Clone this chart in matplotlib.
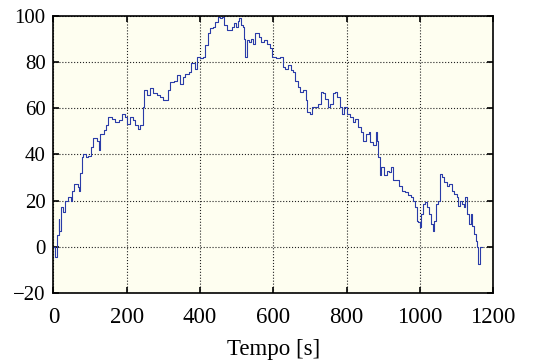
import numpy as np
import matplotlib
matplotlib.use('Agg')
import matplotlib.pyplot as plt

# sampled signal (time in s, value)
tempo = [0, 5, 11, 14, 16, 21, 27, 32, 41, 47, 50, 55, 66, 70, 73, 77, 82, 89, 95,
         102, 109, 118, 125, 127, 137, 144, 150, 159, 168, 178, 187, 196, 200, 209,
         217, 223, 232, 237, 244, 248, 255, 264, 273, 282, 291, 299, 308, 312, 319,
         328, 337, 346, 353, 360, 369, 375, 382, 387, 392, 401, 408, 414, 421, 428,
         435, 442, 448, 455, 460, 466, 473, 481, 487, 492, 497, 503, 507, 512, 517,
         521, 524, 528, 533, 539, 545, 551, 560, 566, 574, 583, 590, 597, 606, 619,
         626, 633, 640, 647, 654, 660, 667, 674, 681, 688, 692, 699, 706, 715, 721,
         729, 736, 742, 749, 756, 762, 768, 774, 781, 788, 794, 801, 809, 818, 824,
         831, 838, 845, 852, 861, 865, 872, 879, 883, 886, 890, 895, 902, 909, 915,
         922, 927, 934, 943, 952, 960, 967, 975, 982, 986, 991, 996, 1000, 1004, 1009,
         1015, 1020, 1026, 1031, 1035, 1038, 1043, 1049, 1055, 1061, 1066, 1073, 1080,
         1087, 1094, 1101, 1104, 1110, 1116, 1120, 1124, 1129, 1134, 1138, 1143, 1148,
         1152, 1157, 1159, 1163, 1170]
valor = [0, -4.6, 5, 12, 7, 17, 15, 20, 21.5, 20, 24, 27, 26, 24, 32, 39, 40, 39, 39.5,
         43, 47, 46, 42, 49, 50.5, 52.6, 56, 55.5, 54, 55, 57.7, 56, 53, 56,
         55, 52.6, 51, 52.6, 60.6, 68, 65.7, 68.6, 66.4, 65.7, 65, 63.5, 63.5, 68, 71.4,
         72, 74.4, 70.7, 73.6, 75, 75.8, 79.4, 79.4, 77, 82, 81.6, 82, 87.4, 92.5, 94.6,
         95.4, 97.5, 99.7, 99, 99.7, 96, 94, 94, 95.4, 96.8, 95.4, 98, 99, 96, 95.4,
         90, 82.3, 89.6, 88.8, 90, 88, 92.5, 91, 88.8, 89.6, 88, 86, 82.3, 81.6, 82.3,
         78, 77, 78.7, 76.5, 75.8, 72, 69.3, 67, 67.8, 63.5, 58.4, 57.7, 60.6, 60.6, 62,
         67, 66.4, 64.2, 60.6, 62, 66.4, 67, 65, 60.6, 57.7, 60.6, 57.7, 56.2, 54, 55.5,
         51.9, 49.7, 46, 49, 49.7, 45.4, 44, 49.7, 46, 38.8, 31, 34.5, 31, 33, 32.3,
         34.5, 28.7, 28.7, 26.5, 24.3, 23.6, 22.2, 21.5, 20, 17, 11.3, 10.6, 8.4, 14, 18.6,
         19.3, 17, 14, 9.8, 7, 11.3, 18.6, 20, 31.6, 30, 28, 26.5, 27.2,
         24.3, 22.9, 21.5, 17.8, 20, 18.6, 17, 21.5, 14, 9.8, 14, 8.8, 5.5,
         2.6, 0, -7.4, 0, 0]

xticks = [0, 200, 400, 600, 800, 1000, 1200]
yticks = [-20, 0, 20, 40, 60, 80, 100]

plt.rcParams['font.family'] = ['Liberation Serif', 'DejaVu Serif']

fig = plt.figure(figsize=(5.45, 3.62), dpi=100)
ax = fig.add_axes([0.098, 0.191, 0.807, 0.765])
ax.set_facecolor('#fefef0')

ax.step(tempo, valor, where='post', color='#2a3ca8', linewidth=0.8)

ax.set_xlim(0, 1200)
ax.set_ylim(-20, 100)
ax.set_xticks(xticks)
ax.set_yticks(yticks)
ax.grid(True, color='#222222', linestyle=':', linewidth=0.8)
ax.tick_params(direction='in', top=True, right=True, length=4, width=1.2)
ax.tick_params(axis='x', labelsize=16.5, pad=10)
ax.tick_params(axis='y', labelsize=15, pad=5.5)
for s in ax.spines.values():
    s.set_linewidth(1.2)

ax.set_xlabel('Tempo [s]', fontsize=16.5, labelpad=8)

fig.savefig('out.png', dpi=100)
